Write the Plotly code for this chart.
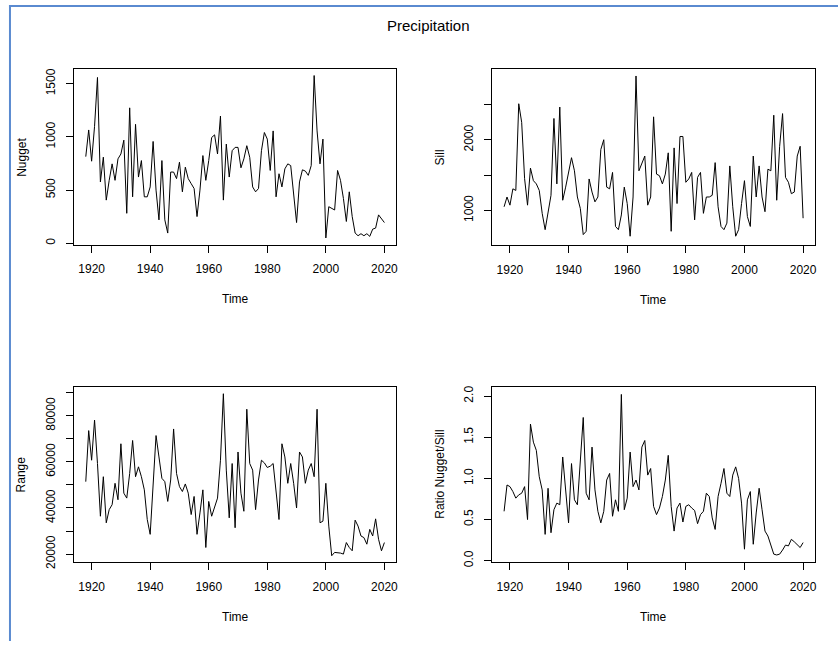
import plotly.graph_objects as go

years = list(range(1918, 2021))

nugget = [815, 1066, 772, 1100, 1560, 577, 810, 406, 592, 747,
          592, 794, 840, 970, 282, 1274, 437, 1119, 623, 778,
          437, 437, 530, 958, 500, 220, 778, 220, 96, 670,
          670, 608, 763, 484, 716, 608, 561, 515, 251, 500,
          825, 592, 778, 995, 1020, 840, 1197, 406, 933, 623,
          871, 902, 902, 710, 794, 918, 809, 530, 484, 515,
          871, 1042, 980, 685, 1057, 437, 654, 530, 700, 747,
          731, 437, 195, 577, 691, 679, 639, 731, 1578, 1057,
          747, 980, 50, 344, 329, 313, 685, 592, 422, 205,
          484, 251, 96, 71, 90, 71, 90, 65, 133, 143,
          267, 226, 195]

sill = [1051, 1190, 1074, 1306, 1283, 2514, 2250, 1450, 1074, 1600,
        1422, 1376, 1283, 958, 726, 958, 1214, 2305, 1376, 2467,
        1144, 1330, 1515, 1748, 1562, 1190, 1028, 656, 703, 1446,
        1260, 1121, 1190, 1864, 2003, 1330, 1306, 1539, 772, 726,
        935, 1330, 1097, 633, 1190, 2908, 1562, 1655, 1771, 1074,
        1190, 2328, 1515, 1492, 1376, 1515, 1817, 703, 1887, 1097,
        2049, 2049, 1399, 1446, 1539, 865, 1469, 1539, 958, 1190,
        1190, 1214, 1678, 1051, 772, 726, 819, 1631, 1051, 633,
        726, 1097, 1422, 912, 772, 1771, 1190, 1631, 1190, 981,
        1585, 1562, 2351, 1144, 1910, 2374, 1469, 1399, 1237, 1260,
        1771, 1910, 889]

range_vals = [51430, 73590, 60730, 78160, 59300, 36430, 53580, 33580, 39290, 41430,
              50720, 43580, 67870, 46440, 44290, 55000, 69300, 53580, 57870, 53580,
              47870, 35000, 28570, 52150, 71440, 62150, 52870, 51430, 42860, 52150,
              74300, 55000, 49290, 47150, 50440, 46440, 37150, 45010, 28570, 37860,
              47870, 22860, 42860, 36430, 40720, 44290, 60730, 89590, 56440, 35720,
              59300, 31430, 64300, 46440, 38580, 82870, 59300, 56440, 39290, 52150,
              60730, 59580, 57580, 58150, 59300, 45720, 35000, 67870, 62150, 50720,
              59300, 50720, 40000, 64300, 62150, 50720, 56440, 59300, 53580, 82870,
              33580, 34290, 50720, 32150, 19290, 20720, 20720, 20430, 20000, 25000,
              22860, 21430, 34720, 32150, 27860, 27150, 24290, 30720, 27860, 35290,
              26430, 21430, 25000]

ratio = [0.60, 0.92, 0.90, 0.84, 0.76, 0.80, 0.82, 0.90, 0.50, 1.66,
         1.44, 1.34, 1.02, 0.86, 0.32, 0.88, 0.34, 0.62, 0.70, 0.68,
         1.26, 0.82, 0.46, 1.18, 0.74, 0.68, 1.18, 1.74, 0.82, 0.74,
         1.38, 0.86, 0.60, 0.46, 0.60, 0.98, 1.06, 0.54, 0.74, 0.60,
         2.02, 0.62, 0.76, 1.32, 0.90, 0.98, 0.86, 1.38, 1.46, 1.04,
         1.12, 0.66, 0.56, 0.64, 0.78, 0.98, 1.28, 0.66, 0.36, 0.64,
         0.70, 0.47, 0.66, 0.68, 0.64, 0.61, 0.45, 0.56, 0.60, 0.82,
         0.78, 0.52, 0.38, 0.78, 0.94, 1.12, 0.82, 0.78, 1.04, 1.14,
         1.00, 0.70, 0.14, 0.74, 0.84, 0.20, 0.58, 0.88, 0.62, 0.36,
         0.30, 0.18, 0.08, 0.07, 0.08, 0.13, 0.19, 0.18, 0.26, 0.23,
         0.20, 0.16, 0.22]

x_ticks = [1920, 1940, 1960, 1980, 2000, 2020]
nugget_ticks = [0, 500, 1000, 1500]
nugget_ticktext = ["0", "500", "1000", "1500"]
sill_ticks = [1000, 1500, 2000, 2500]
sill_ticktext = ["1000", "", "2000", ""]
range_ticks = [20000, 30000, 40000, 50000, 60000, 70000, 80000, 90000]
range_ticktext = ["20000", "", "40000", "", "60000", "", "80000", ""]
ratio_ticks = [0.0, 0.5, 1.0, 1.5, 2.0]
ratio_ticktext = ["0.0", "0.5", "1.0", "1.5", "2.0"]

W, H = 840, 648
def px(x):
    return x / W
def py(y):
    return 1 - y / H

FONT = "Liberation Sans, Arial, sans-serif"

panels = [
    # (series, ylabel, ticks, ticktext, yrange, left, right, top, bottom)
    (nugget, "Nugget", nugget_ticks, nugget_ticktext, [-13, 1638], 74, 397.3, 69, 246.7),
    (sill, "Sill", sill_ticks, sill_ticktext, [505, 3005], 493.3, 817, 69, 247.3),
    (range_vals, "Range", range_ticks, range_ticktext, [16440, 92650], 74, 397.3, 390.5, 568.3),
    (ratio, "Ratio Nugget/Sill", ratio_ticks, ratio_ticktext, [-0.019, 2.114], 493.3, 817, 390.5, 568.3),
]

fig = go.Figure()
annotations = []
layout_axes = {}
for i, (vals, ylab, yt, ytt, yr, L, R, T, B) in enumerate(panels):
    n = i + 1
    xa = "x" if n == 1 else f"x{n}"
    ya = "y" if n == 1 else f"y{n}"
    fig.add_trace(go.Scatter(x=years, y=vals, mode="lines",
                             line=dict(color="black", width=1),
                             xaxis=xa, yaxis=ya, showlegend=False,
                             hoverinfo="skip"))
    axis_common = dict(showline=True, mirror=True, linecolor="black", linewidth=1,
                       ticks="outside", ticklen=7, tickcolor="black", tickwidth=1,
                       showgrid=False, zeroline=False,
                       tickfont=dict(family=FONT, size=12, color="black"))
    layout_axes[f"xaxis{'' if n == 1 else n}"] = dict(
        domain=[px(L), px(R)], anchor=ya, range=[1913.92, 2024.08],
        tickmode="array", tickvals=x_ticks, ticktext=[str(t) for t in x_ticks],
        ticklabelstandoff=6, **axis_common)
    layout_axes[f"yaxis{'' if n == 1 else n}"] = dict(
        domain=[py(B), py(T)], anchor=xa, range=yr,
        tickmode="array", tickvals=yt, ticktext=ytt, tickangle=-90,
        ticklabelstandoff=6, **axis_common)
    annotations.append(dict(text="Time", x=px((L + R) / 2), y=py(B + 55),
                            xref="paper", yref="paper", showarrow=False,
                            xanchor="center", yanchor="middle",
                            font=dict(family=FONT, size=12, color="black")))
    annotations.append(dict(text=ylab, x=px(L - 52), y=py((T + B) / 2),
                            xref="paper", yref="paper", showarrow=False,
                            textangle=-90, xanchor="center", yanchor="middle",
                            font=dict(family=FONT, size=12, color="black")))

annotations.append(dict(text="Precipitation", x=px(430), y=py(25),
                        xref="paper", yref="paper", showarrow=False,
                        xanchor="center", yanchor="middle",
                        font=dict(family=FONT, size=15, color="black")))

shapes = [
    dict(type="line", xref="paper", yref="paper", x0=px(10), x1=px(10), y0=py(4), y1=0,
         line=dict(color="#5A8AD0", width=2)),
    dict(type="line", xref="paper", yref="paper", x0=px(9), x1=1, y0=py(5), y1=py(5),
         line=dict(color="#5A8AD0", width=2)),
]

fig.update_layout(width=W, height=H, margin=dict(l=0, r=0, t=0, b=0),
                  paper_bgcolor="white", plot_bgcolor="white",
                  annotations=annotations, shapes=shapes, **layout_axes)

fig.write_html("out.html")
